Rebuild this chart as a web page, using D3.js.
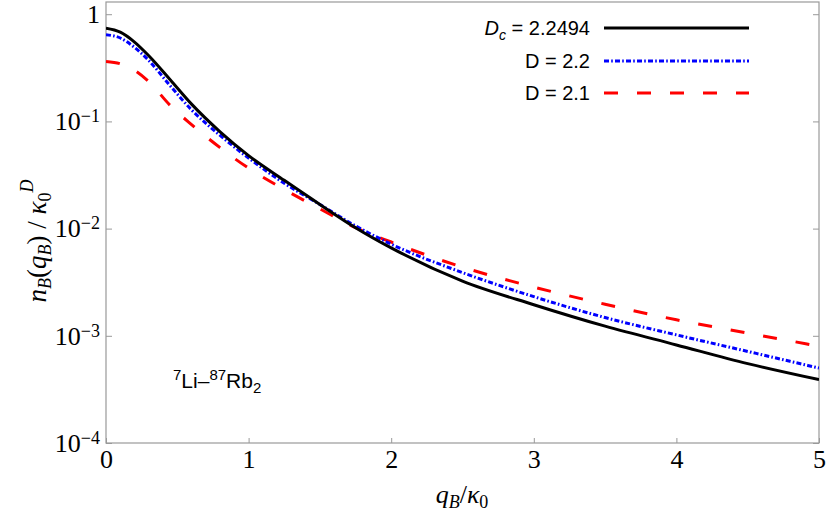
<!DOCTYPE html>
<html>
<head>
<meta charset="utf-8">
<script src="https://cdn.jsdelivr.net/npm/d3@7"></script>
<style>
  body { margin: 0; background: #fff; }
</style>
</head>
<body>
<svg id="chart" width="828" height="515"></svg>
<script>

// momentum grid q_B / kappa_0 and the three momentum distributions
const qGrid = [0, 0.1, 0.2, 0.3, 0.45, 0.6, 0.8, 1.0, 1.25, 1.5, 1.75, 2.0, 2.5, 3.0, 3.5, 4.0, 4.5, 5.0];
const nDc   = [0.74, 0.68, 0.55, 0.41, 0.245, 0.145, 0.080, 0.048, 0.0282, 0.0168, 0.0102, 0.00661, 0.00324, 0.00195, 0.00123, 0.000822, 0.00055, 0.00039];
const nD22  = [0.644, 0.60, 0.49, 0.37, 0.215, 0.128, 0.074, 0.0455, 0.0265, 0.0168, 0.01059, 0.00716, 0.00389, 0.00232, 0.00148, 0.00102, 0.000715, 0.0005];
const nD21  = [0.363, 0.345, 0.30, 0.235, 0.141, 0.0933, 0.0569, 0.0366, 0.0232, 0.0153, 0.0102, 0.0075, 0.00437, 0.00285, 0.00197, 0.00141, 0.00106, 0.0008];

const xTicks = [0, 1, 2, 3, 4, 5];
const yTicks = [1, 1e-1, 1e-2, 1e-3, 1e-4];
const yTickExp = ['', '\u22121', '\u22122', '\u22123', '\u22124'];

const seriesNames = ['Dc', 'D22', 'D21'];
const legendValues = ['2.2494', '2.2', '2.1'];

const series = [
    {name: seriesNames[0], values: nDc,  color: '#000000', dash: null},
    {name: seriesNames[1], values: nD22, color: '#0000ff', dash: '5,2.2,1.6,2.2'},
    {name: seriesNames[2], values: nD21, color: '#ff0000', dash: '14,19'}
];

const plot = {left: 106, right: 819, top: 2, bottom: 443};
const frameColor = '#999999';
const serif = '"Liberation Serif", "DejaVu Serif", serif';
const sans = '"Liberation Sans", Arial, sans-serif';

const svg = d3.select('#chart');

const x = d3.scaleLinear().domain([0, 5]).range([plot.left, plot.right]);
const y = d3.scaleLog().domain([1e-4, 1.3]).range([plot.bottom, plot.top]);

svg.append('defs').append('clipPath')
    .attr('id', 'plotClip')
    .append('rect')
    .attr('x', plot.left)
    .attr('y', plot.top)
    .attr('width', plot.right - plot.left)
    .attr('height', plot.bottom - plot.top);

// bottom axis
const xAxis = svg.append('g')
    .attr('transform', 'translate(0,' + plot.bottom + ')')
    .call(d3.axisBottom(x).tickValues(xTicks).tickSizeInner(-5).tickSizeOuter(0).tickPadding(7).tickFormat(d3.format('d')));
xAxis.select('.domain').remove();
xAxis.selectAll('.tick line').attr('stroke', frameColor);
xAxis.selectAll('.tick text')
    .attr('fill', '#000')
    .style('font-family', serif)
    .style('font-size', '26px');

// left axis
const yAxis = svg.append('g')
    .attr('transform', 'translate(' + plot.left + ',0)')
    .call(d3.axisLeft(y).tickValues(yTicks).tickSizeInner(-6).tickSizeOuter(0).tickPadding(6).tickFormat(''));
yAxis.select('.domain').remove();
yAxis.selectAll('.tick line').attr('stroke', frameColor);
yAxis.selectAll('.tick text').each(function(d, i) {
    const t = d3.select(this)
        .attr('fill', '#000')
        .style('font-family', serif)
        .style('font-size', '26px');
    if (yTickExp[i] === '') {
        t.text('1');
    } else {
        t.append('tspan').text('10');
        t.append('tspan')
            .attr('dy', '-0.45em')
            .style('font-size', '18px')
            .text(yTickExp[i]);
    }
});

// right axis (ticks only)
const yAxisRight = svg.append('g')
    .attr('transform', 'translate(' + plot.right + ',0)')
    .call(d3.axisRight(y).tickValues(yTicks).tickSizeInner(-6).tickSizeOuter(0).tickFormat(''));
yAxisRight.select('.domain').remove();
yAxisRight.selectAll('.tick line').attr('stroke', frameColor);

// frame
svg.append('rect')
    .attr('x', plot.left)
    .attr('y', plot.top)
    .attr('width', plot.right - plot.left)
    .attr('height', plot.bottom - plot.top)
    .attr('fill', 'none')
    .attr('stroke', frameColor)
    .attr('stroke-width', 1.2);

// curves
const line = d3.line()
    .x(function(d, i) { return x(qGrid[i]); })
    .y(function(d) { return y(d); })
    .curve(d3.curveMonotoneX);

svg.append('g')
    .attr('clip-path', 'url(#plotClip)')
    .selectAll('path')
    .data(series.slice().reverse())
    .enter().append('path')
    .attr('d', function(s) { return line(s.values); })
    .attr('fill', 'none')
    .attr('stroke', function(s) { return s.color; })
    .attr('stroke-width', 3)
    .attr('stroke-dasharray', function(s) { return s.dash; });

// legend
const legend = svg.append('g');
const legendRowY = [28, 61, 93];
series.forEach(function(s, i) {
    const row = legend.append('g').attr('transform', 'translate(0,' + legendRowY[i] + ')');
    const label = row.append('text')
        .attr('x', 590)
        .attr('y', 7)
        .attr('text-anchor', 'end')
        .style('font-family', sans)
        .style('font-size', '20px');
    if (i === 0) {
        label.append('tspan').style('font-style', 'italic').text('D');
        label.append('tspan').attr('dy', 5).style('font-style', 'italic').style('font-size', '14px').text('c');
        label.append('tspan').attr('dy', -5).text(' = ' + legendValues[i]);
    } else {
        label.text('D = ' + legendValues[i]);
    }
    row.append('line')
        .attr('x1', 604).attr('x2', 749)
        .attr('y1', 0).attr('y2', 0)
        .attr('stroke', s.color)
        .attr('stroke-width', 3)
        .attr('stroke-dasharray', s.dash);
});

// system label
const sys = svg.append('text')
    .attr('x', 173)
    .attr('y', 388)
    .style('font-family', sans)
    .style('font-size', '21px');
sys.append('tspan').attr('dy', -8).style('font-size', '15px').text('7');
sys.append('tspan').attr('dy', 8).text('Li\u2013');
sys.append('tspan').attr('dy', -8).style('font-size', '15px').text('87');
sys.append('tspan').attr('dy', 8).text('Rb');
sys.append('tspan').attr('dy', 5).style('font-size', '15px').text('2');

// x label
const xl = svg.append('text')
    .attr('x', 462)
    .attr('y', 503)
    .attr('text-anchor', 'middle')
    .style('font-family', serif)
    .style('font-size', '26px');
xl.append('tspan').style('font-style', 'italic').text('q');
xl.append('tspan').attr('dy', 5).style('font-style', 'italic').style('font-size', '18px').text('B');
xl.append('tspan').attr('dy', -5).text('/');
xl.append('tspan').style('font-style', 'italic').text('\u03ba');
xl.append('tspan').attr('dy', 5).style('font-size', '18px').text('0');

// y label
const yl = svg.append('text')
    .attr('transform', 'translate(46,241) rotate(-90)')
    .attr('text-anchor', 'middle')
    .style('font-family', serif)
    .style('font-size', '27px');
yl.append('tspan').style('font-style', 'italic').text('n');
yl.append('tspan').attr('dy', 5).style('font-style', 'italic').style('font-size', '18px').text('B');
yl.append('tspan').attr('dy', -5).text('(');
yl.append('tspan').style('font-style', 'italic').text('q');
yl.append('tspan').attr('dy', 5).style('font-style', 'italic').style('font-size', '18px').text('B');
yl.append('tspan').attr('dy', -5).text(') / ');
yl.append('tspan').style('font-style', 'italic').text('\u03ba');
yl.append('tspan').attr('dy', 5).style('font-size', '18px').text('0');
yl.append('tspan').attr('dy', -18).style('font-style', 'italic').style('font-size', '18px').text('D');

</script>
</body>
</html>
